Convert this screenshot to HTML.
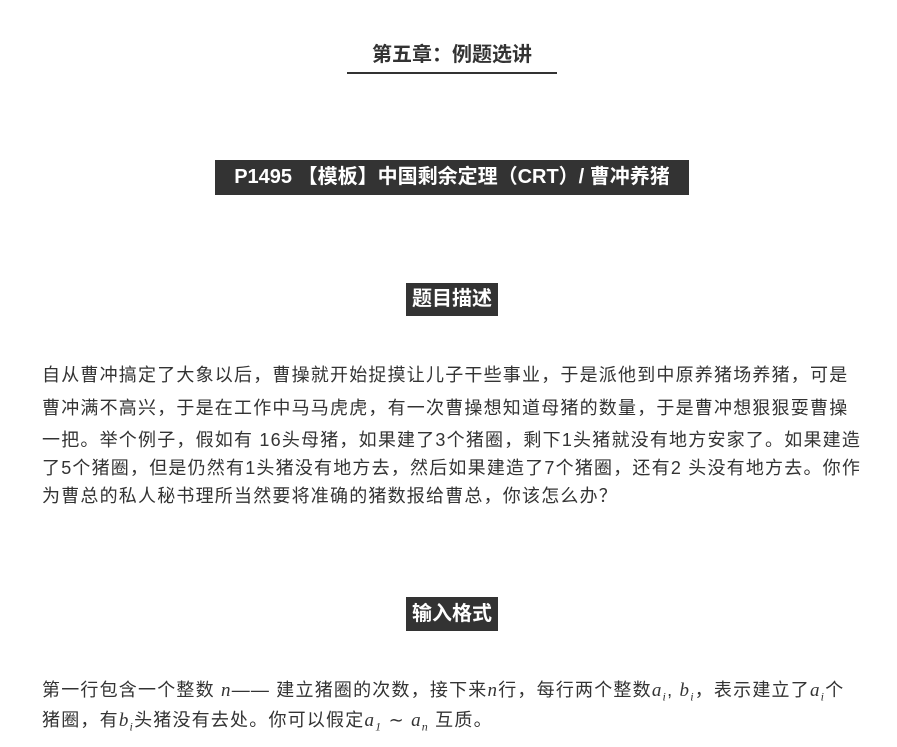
<!DOCTYPE html>
<html><head><meta charset="utf-8"><style>
body{margin:0;width:897px;height:747px;background:#fff;position:relative;overflow:hidden;font-family:"Liberation Sans","Noto Sans CJK SC",sans-serif;color:#333}
.a{position:absolute;white-space:nowrap}
.h{background:#333;color:#fff;font-weight:bold;font-size:20px;text-align:center;line-height:35px}
.t{font-size:18px;letter-spacing:1.2px;left:42px;line-height:24px}
i{font-family:"Liberation Serif",serif;font-size:19px}
sub{font-size:12px;font-style:italic;font-family:"Liberation Serif",serif}
</style></head><body>
<div class="a" style="left:347px;top:40px;width:210px;text-align:center;font-weight:bold;font-size:20px;line-height:30px">第五章：例题选讲</div>
<div class="a" style="left:347px;top:72px;width:210px;height:2px;background:#333"></div>
<div class="a h" style="left:215px;top:160px;width:474px;">P1495 【模板】中国剩余定理（CRT）/ 曹冲养猪</div>
<div class="a h" style="left:406px;top:283px;width:92px;height:33px;line-height:33px">题目描述</div>
<div class="a t" style="top:363px">自从曹冲搞定了大象以后，曹操就开始捉摸让儿子干些事业，于是派他到中原养猪场养猪，可是</div>
<div class="a t" style="top:396px">曹冲满不高兴，于是在工作中马马虎虎，有一次曹操想知道母猪的数量，于是曹冲想狠狠耍曹操</div>
<div class="a t" style="top:428px">一把。举个例子，假如有 16头母猪，如果建了3个猪圈，剩下1头猪就没有地方安家了。如果建造</div>
<div class="a t" style="top:456px">了5个猪圈，但是仍然有1头猪没有地方去，然后如果建造了7个猪圈，还有2 头没有地方去。你作</div>
<div class="a t" style="top:484px">为曹总的私人秘书理所当然要将准确的猪数报给曹总，你该怎么办？</div>
<div class="a h" style="left:406px;top:597px;width:92px;height:34px;line-height:34px">输入格式</div>
<div class="a t" style="top:678px">第一行包含一个整数 <i>n</i>—— 建立猪圈的次数，接下来<i>n</i>行，每行两个整数<i>a</i><sub>i</sub>, <i>b</i><sub>i</sub>，表示建立了<i>a</i><sub>i</sub>个</div>
<div class="a t" style="top:708px">猪圈，有<i>b</i><sub>i</sub>头猪没有去处。你可以假定<i>a</i><sub>1</sub> ∼ <i>a</i><sub>n</sub> 互质。</div>
</body></html>
